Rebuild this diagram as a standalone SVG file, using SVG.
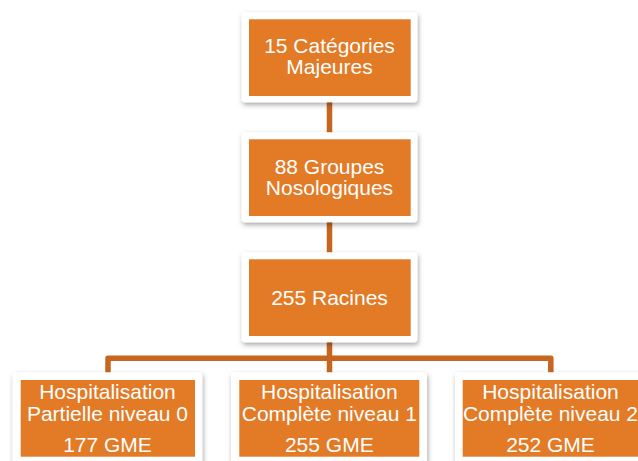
<svg xmlns="http://www.w3.org/2000/svg" width="638" height="461" viewBox="0 0 638 461">
  <defs>
    <filter id="sh" x="-10%" y="-10%" width="125%" height="130%">
      <feDropShadow dx="1" dy="2.5" stdDeviation="2.5" flood-color="#000" flood-opacity="0.35"/>
    </filter>
    <style>
      .card{fill:#fff;filter:url(#sh)}
      .box{fill:#E27A26}
      .t{font-family:"Liberation Sans",Arial,sans-serif;font-size:21px;fill:#fff;text-anchor:middle}
      .c{fill:none;stroke:#C6661F;stroke-width:5.5;stroke-linejoin:round}
    </style>
  </defs>
  <rect width="638" height="461" fill="#fff"/>
  <g id="connectors">
    <line class="c" x1="329.5" y1="100" x2="329.5" y2="136"/>
    <line class="c" x1="329.5" y1="220" x2="329.5" y2="256"/>
    <path class="c" d="M108 376 V358.2 H550.8 V376"/>
    <line class="c" x1="329.5" y1="340" x2="329.5" y2="376"/>
  </g>
  <g id="n1">
    <rect class="card" x="241.7" y="12.3" width="175.6" height="90" rx="3"/>
    <rect class="box" x="249" y="19.3" width="161.7" height="76.7"/>
    <text class="t" x="329.5" y="53.3">15 Catégories</text>
    <text class="t" x="329.5" y="74">Majeures</text>
  </g>
  <g id="n2">
    <rect class="card" x="241.7" y="132.3" width="175.6" height="90" rx="3"/>
    <rect class="box" x="249" y="139.3" width="161.7" height="76.7"/>
    <text class="t" x="329.5" y="173.8">88 Groupes</text>
    <text class="t" x="329.5" y="195.2">Nosologiques</text>
  </g>
  <g id="n3">
    <rect class="card" x="241.7" y="252.3" width="175.6" height="90" rx="3"/>
    <rect class="box" x="249" y="259.3" width="161.7" height="76.7"/>
    <text class="t" x="329.5" y="305">255 Racines</text>
  </g>
  <g id="n4">
    <rect class="card" x="12.7" y="372.3" width="189.5" height="92" rx="3"/>
    <rect class="box" x="20.7" y="380" width="174.3" height="76.7"/>
    <text class="t" x="107.5" y="399.3">Hospitalisation</text>
    <text class="t" x="107.5" y="420.7">Partielle niveau 0</text>
    <text class="t" x="107.5" y="451.7">177 GME</text>
  </g>
  <g id="n5">
    <rect class="card" x="231" y="372.3" width="196" height="92" rx="3"/>
    <rect class="box" x="239.3" y="380" width="180" height="76.7"/>
    <text class="t" x="329.3" y="399.3">Hospitalisation</text>
    <text class="t" x="329.3" y="420.7">Complète niveau 1</text>
    <text class="t" x="329.3" y="451.7">255 GME</text>
  </g>
  <g id="n6">
    <rect class="card" x="455" y="372.3" width="192" height="92" rx="3"/>
    <rect class="box" x="462.7" y="380" width="176.6" height="76.7"/>
    <text class="t" x="550.5" y="399.3">Hospitalisation</text>
    <text class="t" x="550.5" y="420.7">Complète niveau 2</text>
    <text class="t" x="550.5" y="451.7">252 GME</text>
  </g>
</svg>
